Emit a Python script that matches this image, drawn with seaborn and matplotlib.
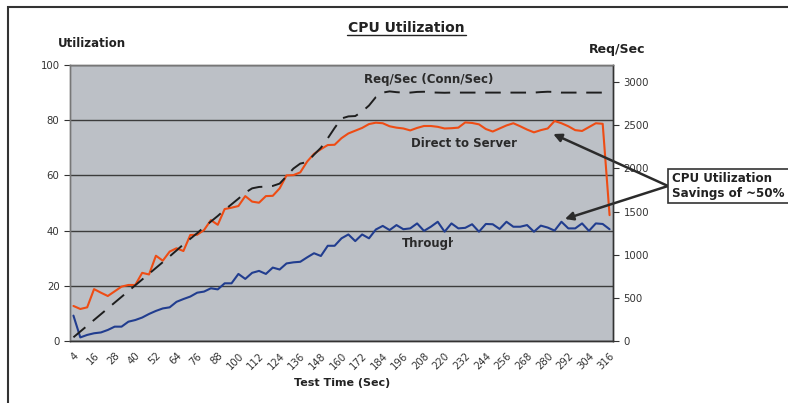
import matplotlib
matplotlib.use("Agg")
import matplotlib.pyplot as plt
import seaborn as sns
import pandas as pd
import numpy as np
from matplotlib.patches import Rectangle
from matplotlib.lines import Line2D
from matplotlib.transforms import Bbox, TransformedBbox

# test time in seconds, one sample every 4 s
test_time = list(range(4, 320, 4))

# CPU utilization (%) - direct to server
direct_util = [12.7, 11.6, 12.2, 18.8, 17.5, 16.3, 18.0, 19.7, 20.3, 20.3,
               24.7, 24.1, 30.9, 29.1, 32.4, 33.6, 32.6, 38.4, 38.5, 40.2,
               43.8, 42.1, 47.8, 48.3, 48.9, 52.5, 50.5, 50.1, 52.5, 52.6,
               55.3, 60.0, 60.1, 61.1, 65.0, 67.8, 69.5, 71.0, 71.1, 73.5,
               75.2, 76.2, 77.2, 78.6, 79.1, 78.9, 77.8, 77.3, 77.0, 76.3,
               77.2, 77.9, 77.9, 77.6, 77.0, 77.1, 77.3, 79.2, 79.0, 78.5,
               76.8, 75.9, 77.0, 78.1, 78.9, 77.8, 76.6, 75.6, 76.4, 77.0,
               79.7, 78.9, 77.8, 76.4, 76.1, 77.5, 78.9, 78.7, 45.6]

# CPU utilization (%) - through the appliance
through_util = [9.2, 1.3, 2.2, 2.8, 3.1, 4.0, 5.2, 5.2, 7.0, 7.6,
                8.5, 9.8, 10.9, 11.8, 12.2, 14.2, 15.2, 16.1, 17.5, 17.9,
                19.1, 18.7, 20.9, 20.9, 24.3, 22.5, 24.7, 25.4, 24.3, 26.6,
                25.9, 28.1, 28.5, 28.7, 30.3, 31.8, 30.8, 34.5, 34.5, 37.2,
                38.6, 36.2, 38.6, 37.2, 40.4, 41.7, 40.2, 42.0, 40.5, 40.8,
                42.6, 39.9, 41.4, 43.2, 39.6, 42.6, 40.8, 41.0, 42.3, 39.6,
                42.4, 42.3, 40.6, 43.2, 41.4, 41.4, 42.0, 39.6, 41.8, 41.1,
                40.0, 43.2, 40.8, 40.8, 42.6, 39.9, 42.6, 42.4, 40.5]

# requests per second (connections per second)
req_per_sec = [43, 110, 177, 244, 311, 378, 445, 512, 579, 646,
               713, 780, 847, 914, 981, 1050, 1120, 1185, 1250, 1320,
               1385, 1450, 1520, 1585, 1650, 1720, 1770, 1786, 1790, 1798,
               1825, 1910, 1999, 2057, 2075, 2160, 2240, 2350, 2470, 2580,
               2604, 2608, 2660, 2730, 2828, 2880, 2894, 2885, 2880, 2880,
               2888, 2890, 2882, 2880, 2878, 2880, 2880, 2880, 2880, 2880,
               2880, 2880, 2880, 2880, 2880, 2880, 2880, 2880, 2886, 2890,
               2888, 2880, 2880, 2880, 2880, 2880, 2880, 2880, 2880]

df = pd.DataFrame({
    "idx": range(len(test_time)),
    "direct": direct_util,
    "through": through_util,
    "req": req_per_sec,
})

sns.set_style("white")
plt.rcParams["font.family"] = ["DejaVu Sans"]

W, H = 788, 403
fig = plt.figure(figsize=(W / 100, H / 100), dpi=100)
ax = fig.add_axes([70 / W, 1 - 341 / H, 543 / W, 276 / H])
ax2 = ax.twinx()

ax.set_facecolor("#bcc0c6")
ax.yaxis.grid(True, color="#3c3c3c", lw=1)
ax.set_axisbelow(True)

sns.lineplot(data=df, x="idx", y="direct", ax=ax, color="#ee4c14", lw=1.5)
sns.lineplot(data=df, x="idx", y="through", ax=ax, color="#213d8f", lw=1.5)
sns.lineplot(data=df, x="idx", y="req", ax=ax2, color="#1e1e1e", lw=1.4,
             linestyle=(0, (8, 5)))

n = len(test_time)
ax.set_xlim(-0.5, n - 0.5)
ax.set_ylim(0, 100)
ax2.set_ylim(0, 3200)
ax.set_yticks(range(0, 101, 20))
ax2.set_yticks(range(0, 3001, 500))

ax.set_xticks(range(0, n, 3))
ax.set_xticklabels([str(t) for t in test_time[::3]], rotation=45,
                   ha="right", rotation_mode="anchor", fontsize=7.3, color="#333")
ax.set_xticks(np.arange(-0.5, n, 1), minor=True)
ax.tick_params(axis="x", which="major", length=0, pad=7)
ax.tick_params(axis="x", which="minor", length=3, direction="out", color="#333")
ax.tick_params(axis="y", length=4, direction="out", labelsize=7.3,
               labelcolor="#333", color="#333", left=True)
ax2.tick_params(axis="y", length=4, direction="out", labelsize=7.3,
                labelcolor="#333", color="#333", right=True)

ax.set_xlabel("")
ax.set_ylabel("")
ax2.set_ylabel("")

for a in (ax, ax2):
    for s in a.spines.values():
        s.set_visible(True)
        s.set_linewidth(1)
    a.spines["top"].set_color("#777")
    a.spines["left"].set_color("#777")
    a.spines["bottom"].set_color("#333")
    a.spines["right"].set_color("#333")

# titles and axis labels
fig.text(406.5 / W, 1 - 28.5 / H, "CPU Utilization", ha="center", va="center",
         fontsize=10, fontweight="bold", color="#222")
fig.add_artist(Line2D([347 / W, 466 / W], [1 - 35 / H, 1 - 35 / H],
                      transform=fig.transFigure, color="#222", lw=1))
fig.text(58 / W, 1 - 43.5 / H, "Utilization", ha="left", va="center",
         fontsize=8.5, fontweight="bold", color="#222")
fig.text(589 / W, 1 - 49.5 / H, "Req/Sec", ha="left", va="center",
         fontsize=9, fontweight="bold", color="#222")
fig.text(342 / W, 1 - 383 / H, "Test Time (Sec)", ha="center", va="center",
         fontsize=8, fontweight="bold", color="#222")

# series labels
ax.text(42.3, 94.9, "Req/Sec (Conn/Sec)", ha="left", va="center",
        fontsize=8.5, fontweight="bold", color="#2a2a2a")
ax.text(49.1, 71.7, "Direct to Server", ha="left", va="center",
        fontsize=8.5, fontweight="bold", color="#2a2a2a")
thr = ax.text(47.8, 35.5, "Through", ha="left", va="center", clip_on=True,
              fontsize=8.5, fontweight="bold", color="#2a2a2a")
thr.set_clip_box(TransformedBbox(Bbox([[40, 0], [55.25, 100]]), ax.transData))

# callout box with arrows (box runs past the right edge)
fig.add_artist(Rectangle((668 / W, 1 - 203 / H), 0.2, 34 / H,
                         transform=fig.transFigure, fc="white",
                         ec="#333", lw=1.2))
fig.text(672 / W, 1 - 186 / H, "CPU Utilization\nSavings of ~50%",
         ha="left", va="center", fontsize=8.6, fontweight="bold", color="#222",
         linespacing=1.1)
for tip in [(69.8, 75.0), (71.5, 44.2)]:
    ax.annotate("", xy=tip, xycoords="data", xytext=(668, H - 186),
                textcoords="figure pixels", annotation_clip=False,
                arrowprops=dict(arrowstyle="-|>", color="#2b2b2b", lw=1.8,
                                mutation_scale=12, shrinkA=0, shrinkB=0))

# outer chart frame (cut off at the right and bottom)
fig.add_artist(Rectangle((8 / W, -0.1), 1.2, 1 - 7 / H + 0.1,
                         transform=fig.transFigure, fill=False,
                         ec="#333", lw=1.5))

fig.savefig("out.png", dpi=100)
